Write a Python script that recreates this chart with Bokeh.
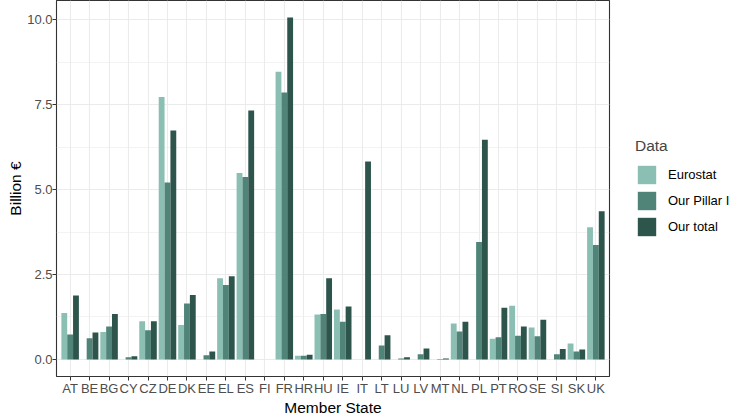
from bokeh.plotting import figure
from bokeh.models import FactorRange, FixedTicker, PrintfTickFormatter, Legend, LegendItem, ColumnDataSource
from bokeh.transform import dodge
from bokeh.embed import file_html
from bokeh.resources import INLINE

states = ["AT", "BE", "BG", "CY", "CZ", "DE", "DK", "EE", "EL", "ES", "FI", "FR", "HR", "HU",
          "IE", "IT", "LT", "LU", "LV", "MT", "NL", "PL", "PT", "RO", "SE", "SI", "SK", "UK"]
eurostat = [1.37, 0.0, 0.81, 0.0, 1.12, 7.73, 1.01, 0.0, 2.39, 5.49, 0.0, 8.47, 0.11, 1.32,
            1.47, 0.0, 0.0, 0.0, 0.0, 0.0, 1.06, 0.0, 0.61, 1.58, 0.94, 0.0, 0.47, 3.89]
pillar1 = [0.73, 0.62, 0.97, 0.06, 0.86, 5.21, 1.65, 0.12, 2.19, 5.37, 0.0, 7.86, 0.11, 1.34,
           1.11, 0.0, 0.41, 0.03, 0.15, 0.01, 0.82, 3.46, 0.65, 0.70, 0.68, 0.15, 0.23, 3.37]
total = [1.88, 0.79, 1.34, 0.09, 1.12, 6.74, 1.90, 0.23, 2.45, 7.33, 0.0, 10.07, 0.14, 2.39,
         1.56, 5.83, 0.71, 0.06, 0.32, 0.03, 1.11, 6.47, 1.52, 0.97, 1.17, 0.31, 0.29, 4.36]
series_names = ["Eurostat", "Our Pillar I", "Our total"]
y_ticks = [0, 2.5, 5, 7.5, 10]
y_minor = [1.25, 3.75, 6.25, 8.75]

colors = ["#8CBFB3", "#508479", "#2E554C"]
FONT = "Liberation Sans"

src = ColumnDataSource(dict(state=states, eurostat=eurostat, pillar1=pillar1, total=total))

xr = FactorRange(factors=states, range_padding=0.2, range_padding_units="absolute")
p = figure(x_range=xr, y_range=(-0.5035, 10.57), frame_width=553, frame_height=376,
           output_backend="svg", toolbar_location=None,
           min_border_left=56, min_border_right=122, min_border_top=0, min_border_bottom=20)

rs = []
for col, off, c in zip(["eurostat", "pillar1", "total"], [-0.3, 0.0, 0.3], colors):
    r = p.vbar(x=dodge("state", off, range=p.x_range), top=col, bottom=0, width=0.3,
               source=src, fill_color=c, line_color=None)
    rs.append(r)

p.background_fill_color = "white"
p.border_fill_color = "white"
p.outline_line_color = "#333333"
p.outline_line_width = 1.1

p.yaxis.ticker = FixedTicker(ticks=y_ticks, minor_ticks=y_minor)
p.yaxis.formatter = PrintfTickFormatter(format="%.1f")

for ax in (p.xaxis[0], p.yaxis[0]):
    ax.axis_line_color = None
    ax.major_tick_line_color = "#333333"
    ax.major_tick_out = 4
    ax.major_tick_in = 0
    ax.minor_tick_line_color = None
    ax.major_label_text_font = FONT
    ax.major_label_text_font_size = "13px"
    ax.major_label_text_color = "#4D4D4D"
    ax.major_label_standoff = 0
    ax.major_label_text_line_height = 1.0
    ax.axis_label_text_font = FONT
    ax.axis_label_text_font_size = "15.5px"
    ax.axis_label_text_font_style = "normal"
    ax.axis_label_text_color = "black"
    ax.axis_label_text_line_height = 1.0
    ax.axis_label_standoff = 0

p.xaxis.axis_label = "Member State"
p.yaxis.axis_label = "Billion €"

p.xgrid.grid_line_color = "#EBEBEB"
p.xgrid.grid_line_width = 1.1
p.ygrid.grid_line_color = "#EBEBEB"
p.ygrid.grid_line_width = 1.1
p.ygrid.minor_grid_line_color = "#EBEBEB"
p.ygrid.minor_grid_line_width = 0.6

legend = Legend(items=[LegendItem(label=n, renderers=[r]) for n, r in zip(series_names, rs)],
                location=(26, 138), title="Data",
                glyph_width=23, glyph_height=23, spacing=3, padding=0, margin=0,
                label_standoff=10, label_text_font=FONT, label_text_font_size="13px",
                label_text_color="black", title_text_font=FONT, title_text_font_size="15.5px",
                title_text_font_style="normal", title_standoff=8,
                border_line_color=None, background_fill_alpha=0)
p.add_layout(legend, "right")

open("out.html", "w").write(file_html(p, INLINE))
